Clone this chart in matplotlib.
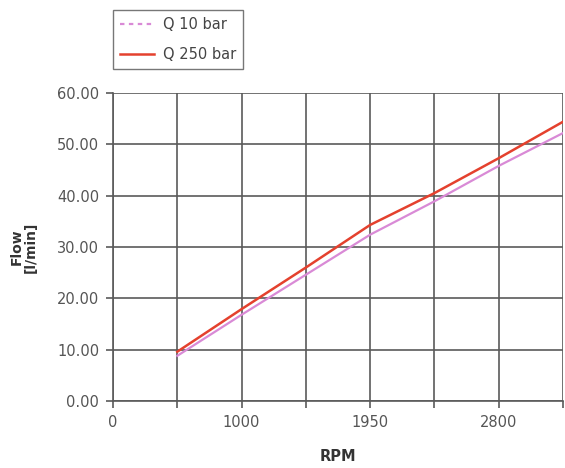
import matplotlib
matplotlib.use('Agg')
import matplotlib.pyplot as plt
from matplotlib.lines import Line2D

plt.rcParams['font.family'] = 'DejaVu Sans'

# category axis (Excel-style), labels shown every other slot
rpm_cats = ['0', '500', '1000', '1500', '1950', '2400', '2800', '3200']
rpm_shown = ['0', '', '1000', '', '1950', '', '2800', '']
# flow readings at categories 1..7
q10 = [8.8, 16.8, 24.6, 32.4, 38.9, 45.8, 52.2]
q250 = [9.6, 17.9, 26.0, 34.3, 40.5, 47.3, 54.4]
yticks = [0, 10, 20, 30, 40, 50, 60]

c10 = '#d98ad6'
c250 = '#e4412e'
grid_c = '#5a5a5a'
txt_c = '#555555'

fig = plt.figure(figsize=(5.65, 4.68), dpi=100)
ax = fig.add_axes([113 / 565, 1 - 401 / 468, 450 / 565, 308 / 468])

xpos = list(range(1, len(rpm_cats)))
ax.plot(xpos, q10, color=c10, lw=1.6, zorder=3)
ax.plot(xpos, q250, color=c250, lw=1.8, zorder=4)

ax.set_xlim(0, len(rpm_cats) - 1)
ax.set_ylim(0, 60)
ax.set_xticks(range(len(rpm_cats)))
ax.set_xticklabels(rpm_shown, fontsize=10.5, color=txt_c)
ax.set_yticks(yticks)
ax.set_yticklabels([f'{v:.2f}' for v in yticks], fontsize=10.5, color=txt_c)
ax.tick_params(axis='both', direction='out', length=5, width=1.2, color=grid_c, pad=5)

ax.grid(True, color=grid_c, linewidth=1.2)
ax.set_axisbelow(True)
for side in ['top', 'right']:
    ax.spines[side].set_visible(False)
for side in ['left', 'bottom']:
    ax.spines[side].set_color(grid_c)
    ax.spines[side].set_linewidth(1.2)

ax.set_xlabel('RPM', fontsize=10.5, fontweight='bold', color='#333333', labelpad=14)
ax.set_ylabel('Flow\n[l/min]', fontsize=10, fontweight='bold', color='#333333',
              labelpad=14, linespacing=0.95)

handles = [
    Line2D([0], [0], color=c10, lw=1.6, linestyle=(0, (2, 2))),
    Line2D([0], [0], color=c250, lw=1.8),
]
fig.legend(handles, ['Q 10 bar', 'Q 250 bar'], loc='upper left',
           bbox_to_anchor=(113 / 565, 1 - 10 / 468), fontsize=10.5,
           frameon=True, fancybox=False, edgecolor='#555555',
           handlelength=2.3, handletextpad=0.6, borderpad=0.5, labelspacing=1.0,
           borderaxespad=0, labelcolor='#444444')

fig.savefig('out.png', dpi=100)
